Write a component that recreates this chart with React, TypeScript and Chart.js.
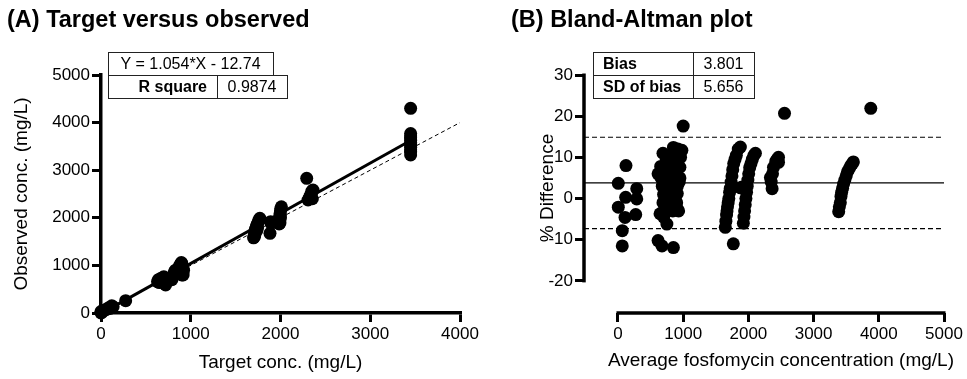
import React, { useEffect, useRef } from "react";
import { Chart, registerables } from "chart.js";

Chart.register(...registerables);

const FONT = '"Liberation Sans", Arial, Helvetica, sans-serif';

// ---------- Panel A: target vs observed ----------
const targetConc = [
  0, 0, 10, 20, 40, 60, 80, 100, 120, 135, 275,
  630, 640, 650, 660, 670, 680, 690, 700, 710, 720, 700, 690, 660,
  790, 800, 810, 820, 830, 840, 860, 870, 880, 900, 900, 905, 915, 920, 905, 895, 880,
  1700, 1705, 1716, 1720, 1730, 1740, 1750, 1760, 1770, 1715, 1735, 1745, 1710,
  1883, 1890, 1895,
  1985, 1990, 1992, 1995, 2000, 2005, 2010, 1994, 2000, 1998,
  2292, 2307, 2320, 2329, 2340, 2350, 2362, 2340, 2355,
  3450, 3450, 3450, 3450, 3450, 3450, 3450, 3450, 3450, 3450, 3450,
];
const observedConc = [
  0, 30, 15, 50, 60, 75, 105, 95, 150, 130, 258,
  660, 700, 640, 720, 690, 735, 660, 700, 620, 590, 760, 740, 680,
  700, 760, 820, 870, 900, 850, 940, 970, 1010, 1044, 800, 860, 798, 900, 960, 1060, 900,
  1580, 1620, 1700, 1760, 1813, 1860, 1900, 1954, 1990, 1650, 1730, 1790, 1603,
  1674, 1918, 1880,
  1870, 1950, 2023, 2090, 2150, 2199, 2230, 1890, 2000, 2060,
  2829, 2374, 2420, 2443, 2500, 2560, 2584, 2460, 2400,
  3320, 3380, 3430, 3480, 3530, 3580, 3630, 3680, 3720, 3770, 4300,
];
const fitSlope = 1.054;
const fitIntercept = -12.74;
const fitXStart = 0;
const fitXEnd = 3450;
const rSquare = "0.9874";
const leftXTicks = [0, 1000, 2000, 3000, 4000];
const leftYTicks = [0, 1000, 2000, 3000, 4000, 5000];

// ---------- Panel B: Bland-Altman ----------
const avgConc = [
  5, 123, 288, 118, 288, 5, 108, 272, 66, 66,
  615, 675, 850, 750, 645, 700, 690, 655, 615, 660, 680, 700, 690, 720, 730, 740, 760, 780, 800, 820,
  850, 870, 880, 890, 900, 910, 910, 910, 930, 940, 950, 960, 980, 1000, 870, 880, 860, 840, 900, 920,
  760, 780, 800, 820, 950, 900, 860, 870, 840,
  1646, 1655, 1665, 1672, 1680, 1690, 1700, 1712, 1722, 1735, 1748, 1760, 1775, 1795, 1815, 1845, 1877,
  1769, 1880, 1905,
  1923, 1932, 1942, 1952, 1962, 1972, 1982, 1992, 2005, 2020, 2040, 2060, 2085, 2108,
  2338, 2350, 2364, 2370, 2385, 2420, 2440, 2462, 2462, 2554,
  3385, 3395, 3410, 3420, 3430, 3445, 3460, 3480, 3500, 3520, 3545, 3570, 3595, 3610, 3877,
];
const pctDiff = [
  3.7, 8.0, 2.4, 0.3, -0.1, -2.1, -4.6, -3.9, -7.8, -11.5,
  -10.2, -11.5, -11.9, -6.2, -3.7, -4.5, 11, 7.8, 6, 5, 3, 1, -1, -2, 8, 9.5, 4, 6, 2, 10,
  12.4, 11.5, 9, 7, 5, 3, 1.2, -2.5, -3, 4, 7.6, 10, 11.7, 17.6, 6, 4, 8, 9, 10.5, 12,
  -1, 1, 5, 3, 5, -1, 0, -2.8, -3,
  -7, -5.5, -4, -3, -2, -1, 0, 1.5, 2.5, 4, 5.5, 7, 8.5, 9.5, 10.5, 12, 12.5,
  -11, 2.6, 2.8,
  -6, -4.5, -3, -1.5, 0, 1.5, 3, 4.5, 6, 7.5, 8.5, 9.5, 10.5, 11,
  5.1, 4, 2.4, 6, 7.6, 9, 9.5, 10, 8.8, 20.7,
  -3.2, -2, -1, 0.5, 1.5, 2.5, 3.5, 4.5, 5.5, 6.5, 7.2, 8, 8.5, 8.9, 21.9,
];
const bias = 3.801;
const sdBias = 5.656;
const loaUpper = 14.887;
const loaLower = -7.285;
const rightXTicks = [0, 1000, 2000, 3000, 4000, 5000];
const rightYTicks = [-20, -10, 0, 10, 20, 30];

function tickScale(ticksList: number[], min: number, max: number, fit: (s: any) => void, showBorder: boolean) {
  return {
    type: "linear",
    min,
    max,
    afterBuildTicks: (s: any) => {
      s.ticks = ticksList.map((v) => ({ value: v }));
    },
    afterFit: fit,
    grid: {
      drawOnChartArea: false,
      drawTicks: true,
      tickLength: 9,
      tickWidth: 3,
      lineWidth: 3,
      color: "#000",
    },
    border: { display: showBorder, color: "#000", width: 3.5 },
    ticks: {
      color: "#000",
      font: { family: FONT, size: 17 },
      padding: 2,
      maxRotation: 0,
      autoSkip: false,
      callback: (v: any) => String(v),
    },
  };
}

function drawText(ctx: CanvasRenderingContext2D, text: string, x: number, y: number, font: string, align: CanvasTextAlign, baseline: CanvasTextBaseline, rot = 0) {
  ctx.save();
  ctx.font = font;
  ctx.fillStyle = "#000";
  ctx.textAlign = align;
  ctx.textBaseline = baseline;
  ctx.translate(x, y);
  if (rot) ctx.rotate(rot);
  ctx.fillText(text, 0, 0);
  ctx.restore();
}

const leftDecor = {
  id: "leftDecor",
  afterDraw(chart: any) {
    const ctx: CanvasRenderingContext2D = chart.ctx;
    const ca = chart.chartArea;
    drawText(ctx, "(A) Target versus observed", 7, 27, `bold 23.5px ${FONT}`, "left", "alphabetic");
    drawText(ctx, "Target conc. (mg/L)", (ca.left + ca.right) / 2, 363, `19px ${FONT}`, "center", "middle");
    drawText(ctx, "Observed conc. (mg/L)", 22, (ca.top + ca.bottom) / 2, `19px ${FONT}`, "center", "middle", -Math.PI / 2);
    // table
    ctx.save();
    ctx.fillStyle = "#fff";
    ctx.fillRect(108, 52, 165, 23);
    ctx.fillRect(108, 75, 179, 23);
    ctx.strokeStyle = "#222";
    ctx.lineWidth = 1;
    ctx.strokeRect(108.5, 52.5, 165, 23);
    ctx.strokeRect(108.5, 75.5, 179, 23);
    ctx.beginPath();
    ctx.moveTo(217.5, 75.5);
    ctx.lineTo(217.5, 98.5);
    ctx.stroke();
    ctx.restore();
    const eq = `Y = ${fitSlope.toFixed(3)}*X - ${Math.abs(fitIntercept).toFixed(2)}`;
    drawText(ctx, eq, 190.5, 65, `16px ${FONT}`, "center", "middle");
    drawText(ctx, "R square", 207, 88, `bold 16px ${FONT}`, "right", "middle");
    drawText(ctx, rSquare, 252, 88, `16px ${FONT}`, "center", "middle");
  },
};

const rightDecor = {
  id: "rightDecor",
  afterDraw(chart: any) {
    const ctx: CanvasRenderingContext2D = chart.ctx;
    const ca = chart.chartArea;
    const xs = chart.scales.x;
    const ys = chart.scales.y;
    // custom axis lines (offset axes)
    ctx.save();
    ctx.strokeStyle = "#000";
    ctx.lineWidth = 3.5;
    ctx.beginPath();
    ctx.moveTo(ca.left, ys.getPixelForValue(rightYTicks[0]) + 1.5);
    ctx.lineTo(ca.left, ys.getPixelForValue(rightYTicks[rightYTicks.length - 1]) - 1.5);
    ctx.stroke();
    ctx.beginPath();
    ctx.moveTo(xs.getPixelForValue(rightXTicks[0]) - 1.5, ca.bottom);
    ctx.lineTo(xs.getPixelForValue(rightXTicks[rightXTicks.length - 1]) + 1.5, ca.bottom);
    ctx.stroke();
    ctx.restore();
    drawText(ctx, "(B) Bland-Altman plot", 28, 27, `bold 23.5px ${FONT}`, "left", "alphabetic");
    const xMid = (xs.getPixelForValue(rightXTicks[0]) + xs.getPixelForValue(rightXTicks[rightXTicks.length - 1])) / 2;
    drawText(ctx, "Average fosfomycin concentration (mg/L)", xMid, 361, `19px ${FONT}`, "center", "middle");
    drawText(ctx, "% Difference", 65, 188, `19px ${FONT}`, "center", "middle", -Math.PI / 2);
    // table
    ctx.save();
    ctx.fillStyle = "#fff";
    ctx.fillRect(110, 52, 161, 46);
    ctx.strokeStyle = "#222";
    ctx.lineWidth = 1;
    ctx.strokeRect(110.5, 52.5, 161, 23);
    ctx.strokeRect(110.5, 75.5, 161, 23);
    ctx.beginPath();
    ctx.moveTo(210.5, 52.5);
    ctx.lineTo(210.5, 98.5);
    ctx.stroke();
    ctx.restore();
    drawText(ctx, "Bias", 120, 65, `bold 16px ${FONT}`, "left", "middle");
    drawText(ctx, "SD of bias", 120, 88, `bold 16px ${FONT}`, "left", "middle");
    drawText(ctx, bias.toFixed(3), 240.5, 65, `16px ${FONT}`, "center", "middle");
    drawText(ctx, sdBias.toFixed(3), 240.5, 88, `16px ${FONT}`, "center", "middle");
  },
};

function leftConfig(): any {
  const pts = targetConc.map((x, i) => ({ x, y: observedConc[i] }));
  const fit = [fitXStart, fitXEnd].map((x) => ({ x, y: fitSlope * x + fitIntercept }));
  const identity = [leftXTicks[0], leftXTicks[leftXTicks.length - 1]].map((v) => ({ x: v, y: v }));
  return {
    type: "scatter",
    data: {
      datasets: [
        { type: "scatter", data: pts, backgroundColor: "#000", borderColor: "#000", borderWidth: 0, pointRadius: 6.5, clip: false, order: 0 },
        { type: "line", data: fit, borderColor: "#000", borderWidth: 3, pointRadius: 0, fill: false, clip: false, order: 1 },
        { type: "line", data: identity, borderColor: "#000", borderWidth: 1, borderDash: [4, 3], pointRadius: 0, fill: false, clip: false, order: 2 },
      ],
    },
    options: {
      animation: false,
      responsive: false,
      events: [],
      layout: { padding: { top: 75, right: 23, left: 0, bottom: 0 } },
      plugins: { legend: { display: false }, tooltip: { enabled: false }, title: { display: false } },
      scales: {
        x: tickScale(leftXTicks, 0, 4000, (s: any) => { s.height = 66; }, true),
        y: tickScale(leftYTicks, 0, 5000, (s: any) => { s.width = 101; }, true),
      },
    },
    plugins: [leftDecor],
  };
}

function rightConfig(): any {
  const pts = avgConc.map((x, i) => ({ x, y: pctDiff[i] }));
  const xMin = -521;
  const xMax = 5000;
  const hline = (v: number) => [{ x: xMin, y: v }, { x: xMax, y: v }];
  return {
    type: "scatter",
    data: {
      datasets: [
        { type: "scatter", data: pts, backgroundColor: "#000", borderColor: "#000", borderWidth: 0, pointRadius: 6.5, clip: false, order: 0 },
        { type: "line", data: hline(bias), borderColor: "#000", borderWidth: 1.3, pointRadius: 0, fill: false, order: 1 },
        { type: "line", data: hline(loaUpper), borderColor: "#000", borderWidth: 1.2, borderDash: [5, 3], pointRadius: 0, fill: false, order: 2 },
        { type: "line", data: hline(loaLower), borderColor: "#000", borderWidth: 1.2, borderDash: [5, 3], pointRadius: 0, fill: false, order: 3 },
      ],
    },
    options: {
      animation: false,
      responsive: false,
      events: [],
      layout: { padding: { top: 75, right: 23, left: 0, bottom: 0 } },
      plugins: { legend: { display: false }, tooltip: { enabled: false }, title: { display: false } },
      scales: {
        x: tickScale(rightXTicks, xMin, xMax, (s: any) => { s.height = 66; }, false),
        y: tickScale(rightYTicks, -27.8, 30, (s: any) => { s.width = 101; }, false),
      },
    },
    plugins: [rightDecor],
  };
}

export default function App() {
  const leftRef = useRef<HTMLCanvasElement>(null);
  const rightRef = useRef<HTMLCanvasElement>(null);
  useEffect(() => {
    const c1 = new Chart(leftRef.current as HTMLCanvasElement, leftConfig());
    const c2 = new Chart(rightRef.current as HTMLCanvasElement, rightConfig());
    return () => {
      c1.destroy();
      c2.destroy();
    };
  }, []);
  return (
    <div style={{ position: "fixed", left: 0, top: 0, width: 967, height: 379, background: "#fff" }}>
      <canvas ref={leftRef} width={483} height={379} style={{ position: "absolute", left: 0, top: 0, width: 483, height: 379 }} />
      <canvas ref={rightRef} width={484} height={379} style={{ position: "absolute", left: 483, top: 0, width: 484, height: 379 }} />
    </div>
  );
}
